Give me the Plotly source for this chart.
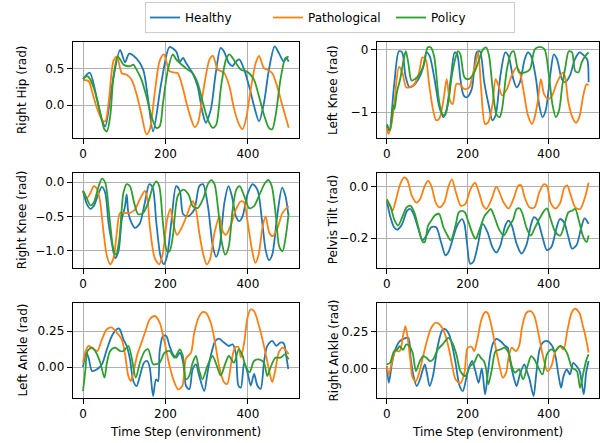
import plotly.graph_objects as go
from plotly.subplots import make_subplots

# ---------------- data: (time step, value) ----------------
series_names = ["Healthy", "Pathological", "Policy"]
series_colors = ["#1f77b4", "#ff7f0e", "#2ca02c"]

x_ticks = [0, 200, 400]
x_ticktext = ["0", "200", "400"]

# Right Hip
hip_healthy = [(0,0.36),(16,0.45),(34,0.08),(46,-0.20),(54,-0.29),(70,0.26),(90,0.76),(102,0.59),(112,0.71),(130,0.64),(146,0.49),(158,0.08),(170,-0.36),(190,0.31),(210,0.80),(226,0.74),(235,0.60),(243,0.65),(250,0.58),(266,0.44),(278,0.26),(290,-0.10),(298,-0.24),(310,-0.06),(322,0.44),(334,0.79),(342,0.74),(354,0.58),(363,0.54),(371,0.60),(379,0.63),(391,0.49),(403,0.26),(415,-0.01),(427,-0.22),(439,0.03),(451,0.49),(465,0.81),(475,0.72),(487,0.60),(493,0.65),(499,0.60)]
hip_path = [(0,0.35),(14,0.33),(22,0.19),(34,-0.04),(46,-0.20),(54,-0.22),(62,0.03),(74,0.61),(82,0.67),(90,0.51),(94,0.44),(106,0.42),(118,0.35),(130,0.15),(142,-0.13),(154,-0.40),(162,-0.33),(174,0.17),(186,0.61),(196,0.70),(210,0.47),(222,0.45),(230,0.44),(243,0.22),(251,0.03),(263,-0.20),(271,-0.30),(279,-0.24),(291,0.17),(307,0.63),(315,0.68),(327,0.49),(335,0.47),(343,0.44),(355,0.26),(367,-0.06),(379,-0.27),(387,-0.33),(395,-0.20),(407,0.22),(419,0.58),(427,0.68),(439,0.51),(447,0.49),(459,0.44),(471,0.26),(483,0.01),(499,-0.31)]
hip_policy = [(0,0.36),(10,0.40),(18,0.35),(30,0.17),(42,-0.11),(52,-0.33),(58,-0.36),(66,-0.15),(74,0.40),(84,0.67),(90,0.63),(98,0.56),(106,0.54),(116,0.54),(122,0.56),(130,0.49),(142,0.35),(154,0.12),(166,-0.15),(178,-0.31),(186,-0.29),(194,0.03),(206,0.49),(218,0.70),(226,0.63),(239,0.56),(254,0.49),(266,0.44),(278,0.31),(291,0.03),(303,-0.20),(315,-0.31),(323,-0.27),(335,0.26),(347,0.63),(355,0.70),(363,0.65),(371,0.58),(383,0.49),(395,0.47),(403,0.44),(415,0.35),(427,0.12),(439,-0.13),(451,-0.31),(459,-0.33),(467,-0.15),(479,0.35),(491,0.65),(499,0.67)]
hip_ticks = [0.0, 0.5]
hip_ticktext = ["0.0", "0.5"]

# Left Knee
lknee_healthy = [(0,-1.22),(6,-1.30),(18,-0.57),(30,-0.02),(38,-0.04),(46,-0.41),(56,-0.60),(66,-0.57),(78,-0.47),(90,-0.28),(98,-0.04),(106,-0.10),(118,-0.47),(130,-0.92),(140,-1.08),(148,-0.95),(158,-0.47),(168,-0.04),(174,-0.07),(182,-0.47),(190,-0.73),(198,-0.76),(210,-0.63),(222,-0.04),(230,-0.02),(241,-0.52),(253,-0.92),(261,-1.13),(269,-1.05),(281,-0.41),(293,-0.04),(301,-0.10),(313,-0.47),(321,-0.60),(329,-0.52),(341,-0.15),(349,-0.04),(357,-0.10),(369,-0.47),(377,-0.89),(385,-1.08),(393,-0.97),(405,-0.36),(413,-0.07),(421,-0.15),(433,-0.47),(441,-0.52),(453,-0.41),(465,-0.15),(477,-0.04),(489,-0.10),(496,-0.16),(499,-0.52)]
lknee_path = [(0,-1.25),(4,-1.35),(11,-1.21),(19,-0.84),(30,-0.27),(38,-0.36),(48,-0.60),(56,-0.60),(68,-0.55),(80,-0.36),(88,-0.12),(96,-0.15),(104,-0.52),(114,-0.95),(122,-1.13),(130,-1.10),(140,-0.81),(148,-0.47),(156,-0.81),(163,-0.87),(172,-0.55),(180,-0.55),(192,-0.63),(204,-0.60),(212,-0.41),(220,-0.20),(226,-0.04),(233,-0.60),(243,-1.19),(251,-1.16),(261,-0.89),(269,-0.47),(276,-0.57),(285,-0.73),(297,-0.63),(309,-0.41),(321,-0.28),(329,-0.36),(340,-0.73),(349,-1.05),(359,-1.19),(365,-1.10),(373,-0.84),(381,-0.47),(389,-0.71),(399,-0.79),(409,-0.73),(421,-0.52),(436,-0.36),(441,-0.44),(449,-0.84),(460,-1.10),(468,-1.17),(476,-1.08),(486,-0.73),(494,-0.55),(499,-0.57)]
lknee_policy = [(0,-1.19),(8,-1.29),(16,-0.89),(19,-0.95),(25,-0.68),(33,-0.47),(41,-0.18),(47,-0.02),(53,-0.20),(61,-0.49),(69,-0.47),(81,-0.39),(93,-0.20),(101,0.04),(109,0.04),(117,-0.10),(129,-0.81),(137,-1.03),(144,-1.05),(152,-0.84),(161,-0.41),(169,-0.15),(176,-0.02),(182,-0.07),(192,-0.44),(202,-0.47),(214,-0.39),(226,-0.20),(238,0.01),(246,0.04),(253,-0.10),(261,-0.57),(271,-1.03),(279,-1.08),(285,-0.95),(297,-0.31),(308,-0.04),(314,-0.02),(327,-0.36),(342,-0.36),(354,-0.31),(366,0.01),(378,0.05),(390,0.01),(400,-0.36),(410,-0.89),(418,-1.08),(426,-0.97),(434,-0.57),(442,-0.26),(450,-0.02),(458,-0.04),(466,-0.34),(474,-0.36),(482,-0.20),(494,-0.07),(499,-0.04)]
lknee_ticks = [-1, 0]
lknee_ticktext = ["\u22121", "0"]

# Right Knee
rknee_healthy = [(0,-0.13),(10,-0.33),(18,-0.39),(26,-0.35),(38,-0.16),(46,-0.07),(54,-0.16),(62,-0.60),(70,-0.89),(78,-1.11),(86,-1.01),(94,-0.55),(102,-0.35),(106,-0.18),(110,-0.45),(118,-0.60),(126,-0.67),(138,-0.60),(150,-0.30),(161,-0.03),(169,-0.08),(178,-0.60),(188,-1.08),(196,-1.20),(204,-1.08),(214,-0.60),(226,-0.06),(235,-0.13),(243,-0.47),(255,-0.50),(270,-0.40),(282,-0.06),(291,-0.03),(303,-0.35),(315,-0.94),(323,-1.09),(331,-0.96),(343,-0.30),(353,-0.06),(361,-0.20),(371,-0.50),(379,-0.57),(387,-0.50),(399,-0.18),(411,-0.03),(423,-0.11),(435,-0.60),(443,-0.99),(451,-1.14),(459,-1.06),(471,-0.50),(483,-0.08),(491,-0.20),(498,-0.47)]
rknee_path = [(0,-0.12),(10,-0.23),(18,-0.16),(26,-0.06),(32,-0.08),(40,-0.23),(50,-0.74),(58,-1.08),(66,-1.20),(74,-1.11),(82,-0.74),(90,-0.45),(102,-0.45),(114,-0.45),(126,-0.40),(138,-0.25),(150,-0.13),(156,-0.23),(162,-0.64),(174,-1.11),(185,-1.20),(194,-1.03),(204,-0.55),(212,-0.39),(218,-0.57),(228,-0.77),(239,-0.67),(251,-0.50),(266,-0.28),(274,-0.40),(282,-0.74),(292,-1.06),(300,-1.20),(308,-1.13),(319,-0.74),(331,-0.50),(339,-0.72),(347,-0.77),(359,-0.62),(371,-0.40),(383,-0.28),(391,-0.30),(399,-0.57),(410,-0.99),(418,-1.18),(426,-1.06),(436,-0.64),(443,-0.50),(452,-0.74),(460,-0.79),(472,-0.67),(484,-0.45),(499,-0.35)]
rknee_policy = [(0,-0.13),(10,-0.25),(18,-0.34),(26,-0.30),(38,-0.06),(46,0.05),(54,-0.01),(64,-0.50),(74,-0.99),(80,-1.06),(88,-0.84),(98,-0.16),(106,-0.03),(114,-0.06),(124,-0.30),(134,-0.47),(146,-0.45),(158,-0.30),(170,-0.06),(178,0.01),(185,-0.06),(194,-0.60),(204,-1.01),(210,-1.01),(218,-0.79),(230,-0.20),(243,-0.11),(256,-0.18),(266,-0.35),(278,-0.38),(291,-0.25),(303,-0.03),(311,0.03),(319,-0.03),(327,-0.35),(337,-0.89),(345,-1.06),(353,-0.96),(363,-0.40),(372,-0.11),(380,-0.06),(391,-0.20),(403,-0.38),(415,-0.35),(427,-0.20),(442,-0.01),(450,0.03),(458,-0.06),(468,-0.50),(476,-0.94),(484,-1.01),(492,-0.79),(499,-0.45)]
rknee_ticks = [-1.0, -0.5, 0.0]
rknee_ticktext = ["\u22121.0", "\u22120.5", "0.0"]

# Pelvis Tilt
pelvis_healthy = [(0,-0.055),(8,-0.113),(18,-0.158),(26,-0.167),(38,-0.145),(50,-0.094),(58,-0.087),(66,-0.106),(78,-0.164),(88,-0.209),(98,-0.190),(110,-0.158),(122,-0.158),(134,-0.215),(145,-0.267),(152,-0.256),(162,-0.209),(174,-0.151),(186,-0.126),(192,-0.145),(198,-0.215),(206,-0.299),(214,-0.292),(225,-0.228),(237,-0.145),(249,-0.177),(261,-0.235),(271,-0.256),(281,-0.228),(293,-0.151),(301,-0.132),(309,-0.151),(321,-0.222),(333,-0.260),(345,-0.228),(357,-0.145),(364,-0.119),(373,-0.132),(385,-0.196),(396,-0.247),(407,-0.235),(418,-0.171),(428,-0.126),(438,-0.138),(449,-0.196),(458,-0.241),(469,-0.228),(480,-0.164),(489,-0.123),(499,-0.145)]
pelvis_path = [(0,-0.055),(8,-0.074),(14,-0.094),(22,-0.055),(33,0.009),(42,0.035),(50,0.028),(62,-0.036),(73,-0.062),(82,-0.049),(94,0.003),(102,0.022),(110,0.003),(121,-0.062),(130,-0.081),(142,-0.062),(153,0.003),(161,0.028),(171,-0.023),(183,-0.074),(194,-0.068),(207,-0.010),(218,0.015),(228,-0.023),(238,-0.074),(246,-0.087),(259,-0.049),(271,0.000),(289,-0.062),(301,-0.085),(313,-0.049),(325,0.003),(332,0.005),(341,-0.042),(353,-0.081),(365,-0.081),(377,-0.023),(388,0.009),(396,0.003),(405,-0.062),(417,-0.085),(429,-0.062),(439,-0.004),(446,0.005),(454,-0.029),(466,-0.081),(478,-0.087),(490,-0.042),(499,0.015)]
pelvis_policy = [(0,-0.049),(10,-0.081),(18,-0.126),(28,-0.151),(38,-0.119),(49,-0.081),(58,-0.074),(68,-0.100),(78,-0.158),(89,-0.215),(94,-0.215),(102,-0.151),(110,-0.132),(118,-0.113),(129,-0.106),(140,-0.158),(150,-0.190),(158,-0.209),(170,-0.151),(178,-0.100),(186,-0.094),(193,-0.100),(202,-0.138),(214,-0.190),(220,-0.203),(230,-0.164),(242,-0.113),(249,-0.100),(257,-0.087),(265,-0.113),(277,-0.164),(289,-0.190),(301,-0.158),(313,-0.126),(321,-0.087),(329,-0.085),(337,-0.113),(345,-0.158),(356,-0.190),(365,-0.164),(377,-0.126),(389,-0.094),(396,-0.085),(405,-0.126),(417,-0.177),(429,-0.190),(441,-0.138),(449,-0.100),(458,-0.094),(466,-0.087),(474,-0.126),(486,-0.196),(494,-0.215),(499,-0.190)]
pelvis_ticks = [-0.2, 0.0]
pelvis_ticktext = ["\u22120.2", "0.0"]

# Left Ankle
lankle_healthy = [(0,0.0),(8,0.10),(14,0.06),(22,-0.028),(34,-0.016),(46,0.019),(58,0.124),(70,0.217),(82,0.264),(88,0.269),(98,0.194),(106,0.147),(114,0.054),(122,-0.098),(130,-0.133),(138,-0.063),(148,0.030),(156,0.042),(162,-0.005),(170,-0.203),(177,-0.086),(182,-0.10),(186,0.112),(194,0.217),(202,0.217),(210,0.147),(218,0.089),(226,0.065),(235,0.100),(243,0.030),(250,-0.133),(258,-0.156),(266,-0.016),(274,0.019),(282,-0.063),(294,-0.168),(302,-0.040),(310,0.079),(321,0.183),(330,0.199),(342,0.171),(354,0.147),(363,0.159),(371,0.090),(377,-0.130),(383,-0.144),(391,0.030),(399,-0.037),(407,-0.130),(415,-0.049),(423,-0.130),(431,-0.153),(439,0.032),(447,0.148),(459,0.183),(469,0.148),(479,0.171),(487,0.165),(493,0.076),(498,-0.014)]
lankle_path = [(0,0.03),(6,0.11),(14,0.147),(26,0.124),(35,0.112),(46,0.194),(58,0.264),(70,0.276),(82,0.241),(94,0.194),(102,0.089),(110,-0.063),(116,-0.098),(122,-0.040),(132,0.089),(142,0.171),(153,0.264),(162,0.334),(174,0.357),(186,0.311),(198,0.171),(210,0.007),(222,-0.110),(231,-0.157),(241,-0.133),(250,0.060),(262,0.100),(270,0.241),(282,0.356),(290,0.384),(298,0.380),(310,0.310),(321,0.160),(330,0.009),(342,-0.106),(350,-0.118),(361,0.054),(369,0.136),(377,0.140),(383,0.067),(391,0.170),(399,0.345),(407,0.403),(415,0.391),(427,0.287),(439,0.148),(450,-0.002),(459,-0.106),(467,-0.014),(475,0.102),(485,0.136),(493,0.113),(499,0.090)]
lankle_policy = [(0,-0.168),(6,-0.016),(11,0.112),(22,0.135),(32,0.100),(42,0.030),(52,-0.075),(58,0.030),(66,0.112),(78,0.135),(90,0.112),(98,0.112),(110,0.147),(118,0.065),(128,-0.075),(138,0.030),(150,0.112),(158,0.124),(170,0.019),(178,0.020),(186,0.030),(198,0.100),(210,0.112),(222,0.065),(235,0.124),(242,0.080),(250,-0.086),(258,-0.060),(266,0.030),(274,0.077),(282,-0.026),(290,-0.086),(302,0.009),(314,0.077),(326,-0.002),(334,-0.060),(346,0.030),(354,0.077),(366,0.030),(378,0.123),(386,0.088),(394,0.009),(404,-0.037),(415,0.042),(427,0.053),(439,0.030),(447,-0.063),(455,-0.002),(467,0.065),(479,0.065),(490,0.088),(499,0.053)]
lankle_ticks = [0.0, 0.25]
lankle_ticktext = ["0.00", "0.25"]

# Right Ankle
rankle_healthy = [(0,0.016),(5,-0.097),(13,0.038),(21,0.128),(32,0.185),(41,0.200),(53,0.207),(59,0.072),(66,-0.052),(74,-0.119),(82,-0.074),(88,-0.018),(94,0.027),(99,-0.029),(106,-0.119),(114,-0.052),(126,0.151),(138,0.263),(146,0.263),(154,0.230),(162,0.151),(170,0.038),(180,-0.119),(188,-0.153),(196,-0.074),(203,0.005),(211,0.050),(219,-0.018),(227,-0.097),(235,0.000),(243,-0.176),(250,-0.029),(256,0.095),(263,0.173),(271,0.200),(281,0.185),(293,0.151),(299,0.140),(305,0.050),(313,-0.052),(321,-0.119),(329,-0.041),(340,0.027),(345,-0.007),(353,-0.074),(363,-0.187),(369,-0.052),(377,0.117),(385,0.173),(397,0.185),(409,0.151),(417,0.083),(425,-0.052),(431,-0.131),(437,-0.052),(445,-0.007),(453,-0.041),(461,0.038),(469,0.016),(477,-0.018),(487,-0.176),(493,-0.029),(499,0.050)]
rankle_path = [(0,0.016),(5,-0.041),(13,0.050),(21,0.117),(32,0.117),(40,0.218),(46,0.286),(51,0.218),(58,0.061),(64,-0.063),(72,-0.086),(80,-0.029),(88,0.061),(98,0.173),(110,0.275),(122,0.309),(134,0.286),(144,0.230),(154,0.128),(162,0.016),(170,-0.074),(182,-0.101),(192,-0.029),(200,0.140),(210,0.145),(216,0.117),(224,0.196),(234,0.331),(243,0.380),(249,0.376),(257,0.309),(267,0.173),(277,0.038),(287,-0.063),(295,-0.029),(301,0.072),(309,0.140),(319,0.117),(327,0.151),(335,0.286),(345,0.376),(356,0.387),(365,0.354),(373,0.263),(381,0.151),(389,0.050),(397,-0.018),(407,0.016),(417,0.117),(428,0.151),(437,0.128),(447,0.263),(457,0.376),(465,0.403),(476,0.376),(485,0.286),(493,0.196),(499,0.106)]
rankle_policy = [(0,0.027),(8,0.038),(18,0.117),(26,0.128),(32,0.151),(40,0.125),(48,0.162),(56,0.151),(64,0.106),(72,-0.018),(80,0.038),(90,0.083),(98,0.072),(106,0.050),(114,0.060),(126,0.128),(138,0.162),(152,0.207),(162,0.173),(172,0.095),(182,-0.018),(194,-0.052),(206,0.016),(216,0.038),(226,0.095),(233,0.070),(240,0.050),(245,0.005),(251,-0.108),(259,-0.018),(269,0.117),(281,0.128),(291,0.140),(301,0.106),(309,0.016),(317,-0.029),(327,-0.007),(337,-0.074),(348,0.016),(357,0.083),(365,0.061),(373,0.016),(385,-0.041),(396,0.095),(407,0.128),(417,0.117),(428,0.151),(437,0.140),(447,0.095),(458,0.005),(470,-0.018),(478,-0.131),(486,-0.029),(494,0.061),(499,0.095)]
rankle_ticks = [0.0, 0.25]
rankle_ticktext = ["0.00", "0.25"]

# ---------------- layout ----------------
W, H = 609, 443
FONT = "DejaVu Sans"
FS = 12

panels = [
    ("Right Hip (rad)", (hip_healthy, hip_path, hip_policy), [-0.45, 0.87], hip_ticks, hip_ticktext),
    ("Left Knee (rad)", (lknee_healthy, lknee_path, lknee_policy), [-1.415, 0.128], lknee_ticks, lknee_ticktext),
    ("Right Knee (rad)", (rknee_healthy, rknee_path, rknee_policy), [-1.25, 0.137], rknee_ticks, rknee_ticktext),
    ("Pelvis Tilt (rad)", (pelvis_healthy, pelvis_path, pelvis_policy), [-0.315, 0.054], pelvis_ticks, pelvis_ticktext),
    ("Left Ankle (rad)", (lankle_healthy, lankle_path, lankle_policy), [-0.215, 0.446], lankle_ticks, lankle_ticktext),
    ("Right Ankle (rad)", (rankle_healthy, rankle_path, rankle_policy), [-0.198, 0.44], rankle_ticks, rankle_ticktext),
]

col_px = [(72.7, 299.0), (376.7, 598.7)]
row_px = [(42.0, 138.0), (172.7, 267.7), (303.3, 397.7)]
ylabel_x_px = [22, 333]

fig = make_subplots(rows=3, cols=2)

annotations = []
for i, (ylabel, series, yr, tv, tt) in enumerate(panels):
    r, c = i // 2, i % 2
    ax = "" if i == 0 else str(i + 1)
    for k, pts in enumerate(series):
        fig.add_trace(go.Scatter(
            x=[p[0] for p in pts], y=[p[1] for p in pts],
            mode="lines", name=series_names[k],
            line=dict(color=series_colors[k], width=1.8, shape="spline", smoothing=0.8),
            showlegend=(i == 0), legendgroup=series_names[k],
        ), row=r + 1, col=c + 1)
    x0, x1 = col_px[c]
    y0, y1 = row_px[r]
    fig.layout["xaxis" + ax].update(
        domain=[x0 / W, x1 / W], range=[-25, 524],
        tickvals=x_ticks, ticktext=x_ticktext,
    )
    fig.layout["yaxis" + ax].update(
        domain=[1 - y1 / H, 1 - y0 / H], range=yr,
        tickvals=tv, ticktext=tt,
    )
    annotations.append(dict(
        text=ylabel, xref="paper", yref="paper",
        x=ylabel_x_px[c] / W, y=1 - (y0 + y1) / 2 / H,
        textangle=-90, showarrow=False, xanchor="center", yanchor="middle",
        font=dict(family=FONT, size=FS, color="black"),
    ))

for c in range(2):
    x0, x1 = col_px[c]
    annotations.append(dict(
        text="Time Step (environment)", xref="paper", yref="paper",
        x=(x0 + x1) / 2 / W, y=1 - 432 / H,
        showarrow=False, xanchor="center", yanchor="middle",
        font=dict(family=FONT, size=FS, color="black"),
    ))

axis_style = dict(
    showline=True, linecolor="black", linewidth=1, mirror=True,
    ticks="outside", ticklen=5, tickwidth=1, tickcolor="black",
    showgrid=True, gridcolor="#b0b0b0", gridwidth=1, zeroline=False,
    automargin=False,
    tickfont=dict(family=FONT, size=FS, color="black"),
)
fig.update_xaxes(**axis_style)
fig.update_yaxes(**axis_style)

fig.update_layout(
    width=W, height=H,
    margin=dict(l=0, r=0, t=0, b=0, autoexpand=False),
    paper_bgcolor="white", plot_bgcolor="white",
    font=dict(family=FONT, size=FS, color="black"),
    annotations=annotations,
    legend=dict(
        orientation="h", x=330 / W, xanchor="center", y=1 - 2 / H, yanchor="top",
        bordercolor="#cccccc", borderwidth=1, bgcolor="white",
        entrywidth=78, tracegroupgap=0,
        font=dict(family=FONT, size=FS, color="black"),
    ),
)

fig.write_html("out.html", config={"displayModeBar": False},
               post_script="document.body.style.margin='0';document.body.style.padding='0';")
